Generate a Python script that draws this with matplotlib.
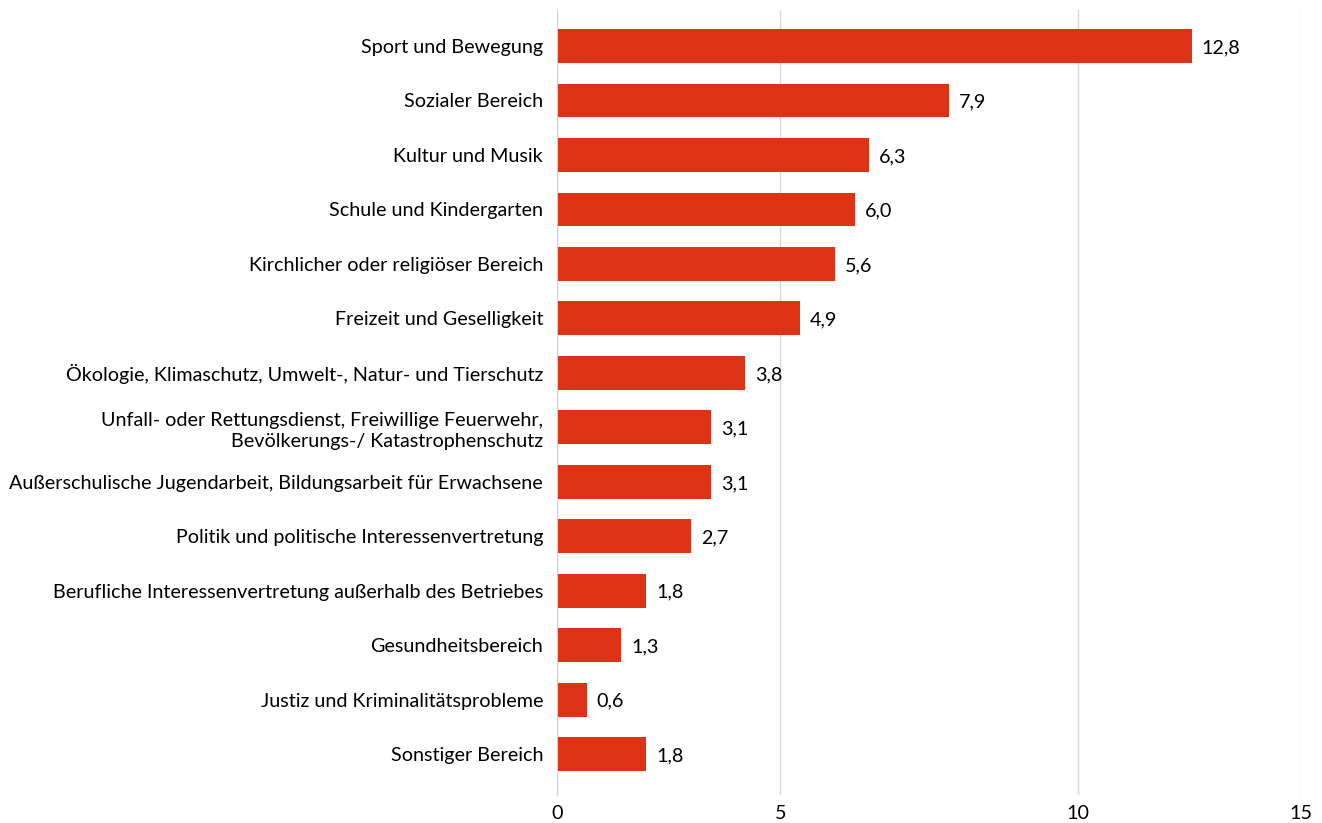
import matplotlib.pyplot as plt

# Bereiche des Engagements (von oben nach unten)
categories = [
    "Sport und Bewegung",
    "Sozialer Bereich",
    "Kultur und Musik",
    "Schule und Kindergarten",
    "Kirchlicher oder religiöser Bereich",
    "Freizeit und Geselligkeit",
    "Ökologie, Klimaschutz, Umwelt-, Natur- und Tierschutz",
    "Unfall- oder Rettungsdienst, Freiwillige Feuerwehr,\nBevölkerungs-/ Katastrophenschutz",
    "Außerschulische Jugendarbeit, Bildungsarbeit für Erwachsene",
    "Politik und politische Interessenvertretung",
    "Berufliche Interessenvertretung außerhalb des Betriebes",
    "Gesundheitsbereich",
    "Justiz und Kriminalitätsprobleme",
    "Sonstiger Bereich",
]
values = [12.8, 7.9, 6.3, 6.0, 5.6, 4.9, 3.8, 3.1, 3.1, 2.7, 1.8, 1.3, 0.6, 1.8]

# gridlines as they sit in the original picture
tick_positions = [0, 4.5, 10.5, 15]
tick_labels = ["0", "5", "10", "15"]

plt.rcParams["font.family"] = ["Lato", "DejaVu Sans"]
FS = 14.2

fig = plt.figure(figsize=(13.22, 8.23), dpi=100)
ax = fig.add_axes([0.4213, 0.034, 0.5628, 0.9538])

y = list(range(len(categories)))
ax.barh(y, values, height=0.62, color="#dc3215", zorder=3)

for yi, v in zip(y, values):
    ax.text(v + 0.2, yi + 0.03, f"{v:.1f}".replace(".", ","),
            va="center", ha="left", fontsize=FS, color="black")

ax.set_yticks(y)
ax.set_yticklabels(categories, fontsize=FS, linespacing=1.3)
ax.set_ylim(13.75, -0.66)
ax.set_xlim(0, 15)
ax.set_xticks(tick_positions)
ax.set_xticklabels(tick_labels, fontsize=FS)

ax.tick_params(axis="y", length=0, pad=10)
ax.tick_params(axis="x", length=0, pad=7)
ax.grid(axis="x", color="#d9d9d9", linewidth=1, zorder=0)

for side in ["top", "right", "bottom"]:
    ax.spines[side].set_visible(False)
ax.spines["left"].set_color("#d0d0d0")
ax.spines["left"].set_zorder(4)

fig.savefig("out.png", dpi=100)
